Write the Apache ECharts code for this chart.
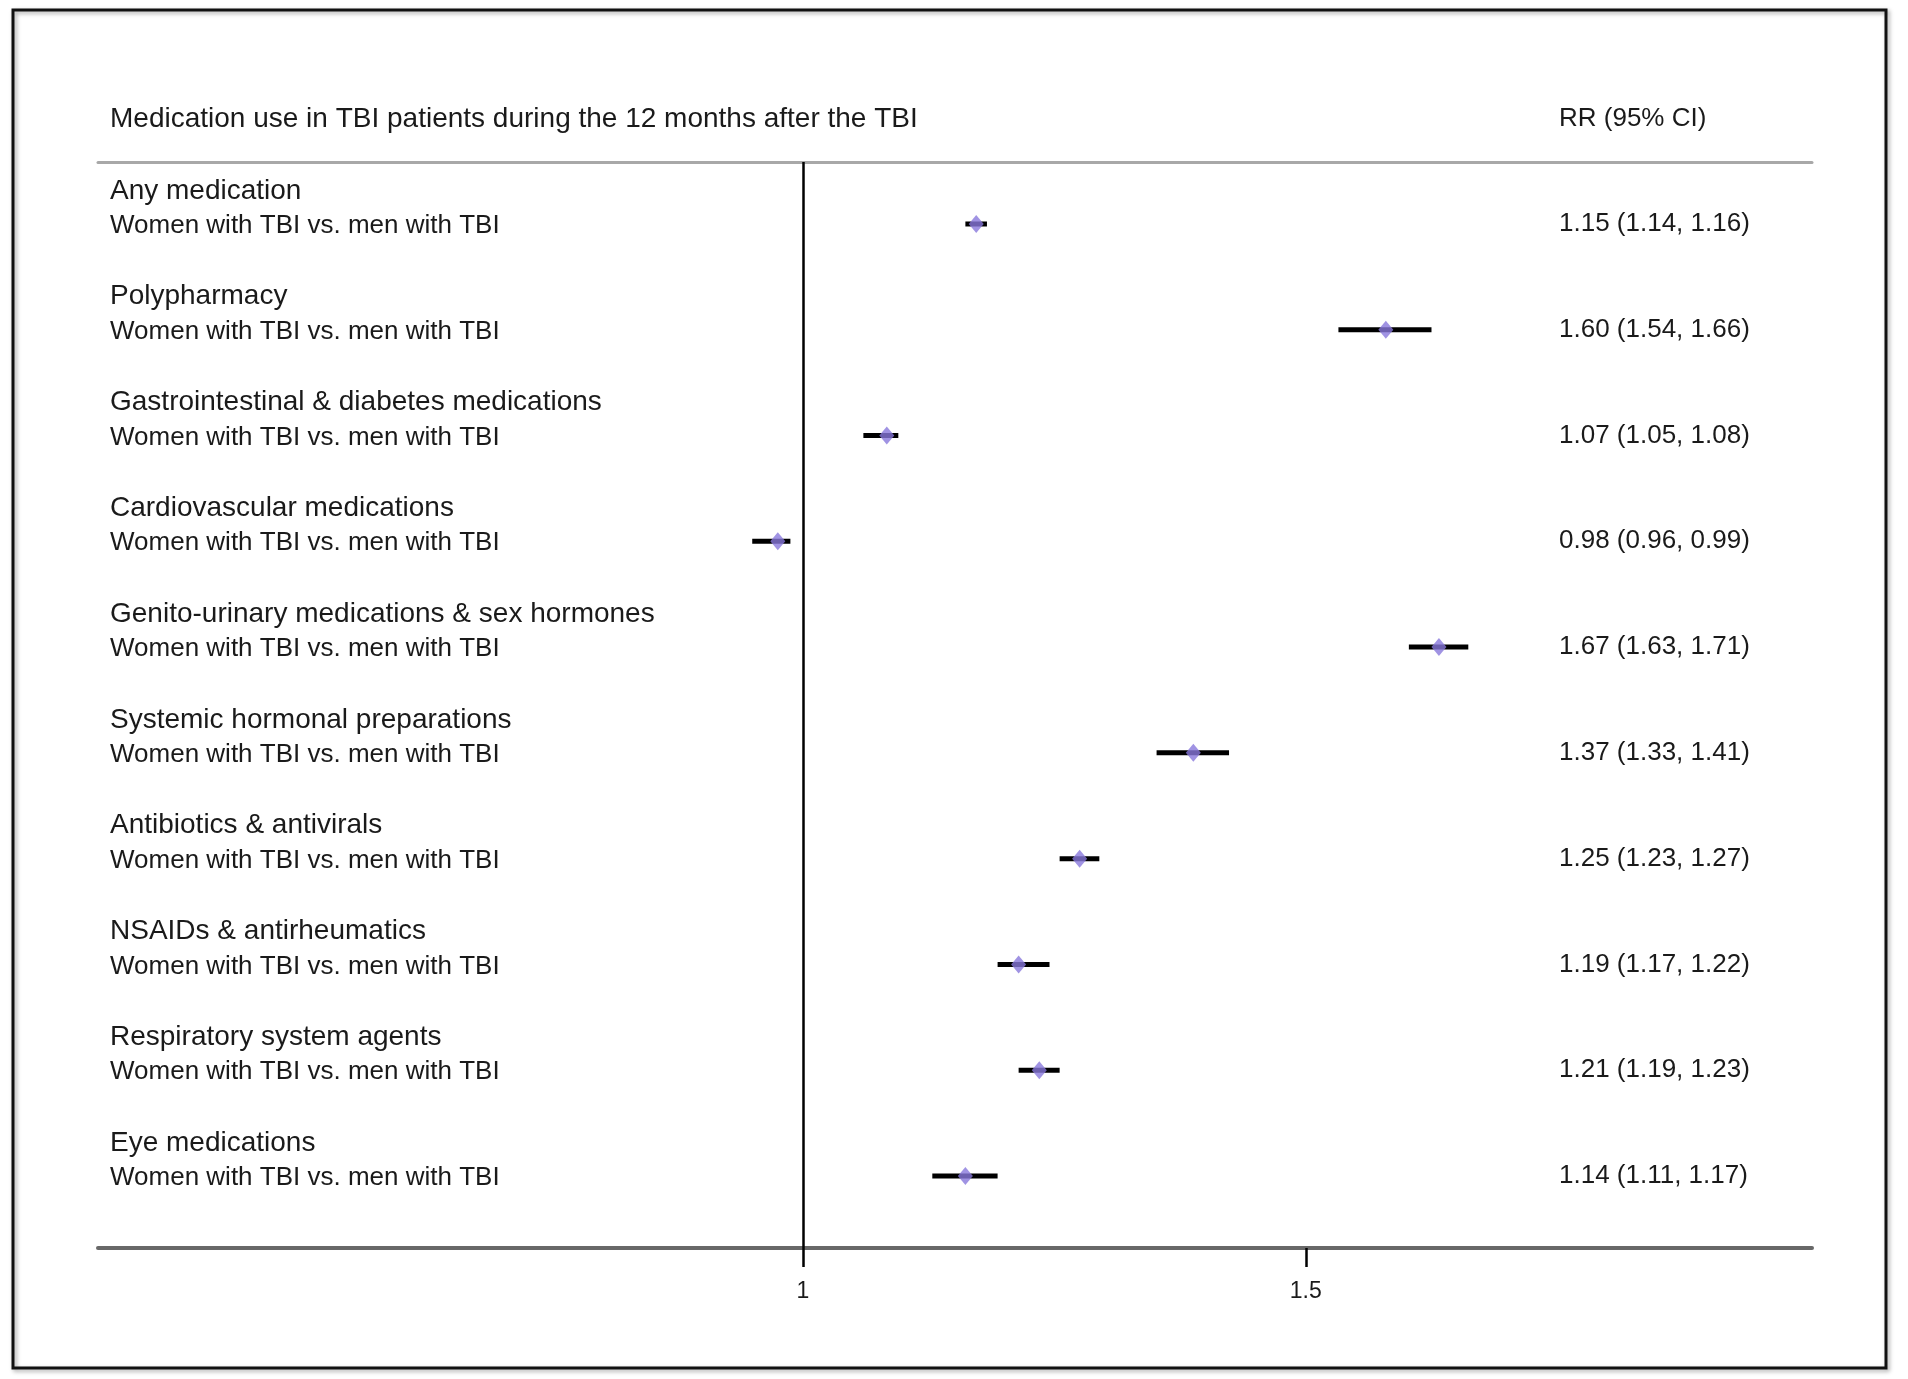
<!DOCTYPE html>
<html>
<head>
<meta charset="utf-8">
<script src="https://cdn.jsdelivr.net/npm/echarts@6/dist/echarts.min.js"></script>
<style>
  html, body { margin: 0; padding: 0; background: #ffffff; }
  #chart { width: 1908px; height: 1379px; }
</style>
</head>
<body>
<div id="chart"></div>
<script>
// ---- data ----
const headerLeft = 'Medication use in TBI patients during the 12 months after the TBI';
const headerRight = 'RR (95% CI)';
const categories = [
  'Any medication',
  'Polypharmacy',
  'Gastrointestinal & diabetes medications',
  'Cardiovascular medications',
  'Genito-urinary medications & sex hormones',
  'Systemic hormonal preparations',
  'Antibiotics & antivirals',
  'NSAIDs & antirheumatics',
  'Respiratory system agents',
  'Eye medications'
];
const comparisons = [
  'Women with TBI vs. men with TBI',
  'Women with TBI vs. men with TBI',
  'Women with TBI vs. men with TBI',
  'Women with TBI vs. men with TBI',
  'Women with TBI vs. men with TBI',
  'Women with TBI vs. men with TBI',
  'Women with TBI vs. men with TBI',
  'Women with TBI vs. men with TBI',
  'Women with TBI vs. men with TBI',
  'Women with TBI vs. men with TBI'
];
const rr    = [1.15, 1.60, 1.07, 0.98, 1.67, 1.37, 1.25, 1.19, 1.21, 1.14];
const ciLow = [1.14, 1.54, 1.05, 0.96, 1.63, 1.33, 1.23, 1.17, 1.19, 1.11];
const ciHigh= [1.16, 1.66, 1.08, 0.99, 1.71, 1.41, 1.27, 1.22, 1.23, 1.17];
const xTicks = [1, 1.5];
const refValue = 1;

// ---- derived ----
const rowIdx = categories.map((_, i) => i);
const rrLabels = rr.map((v, i) => v.toFixed(2) + ' (' + ciLow[i].toFixed(2) + ', ' + ciHigh[i].toFixed(2) + ')');
const ciData = rowIdx.map(i => [ciLow[i], ciHigh[i], i]);
const ptData = rowIdx.map(i => [rr[i], i]);

const FONT = 'Arial, "Liberation Sans", sans-serif';
const TXT = '#1a1a1a';
const X_MIN = 0.5665, X_MAX = 2.256;
const Y_MIN = -0.586, Y_MAX = 9.681;

const chart = echarts.init(document.getElementById('chart'), null, { renderer: 'canvas' });
chart.setOption({
  backgroundColor: '#ffffff',
  animation: false,
  textStyle: { fontFamily: FONT },
  title: [
    { text: headerLeft, left: 110, top: 105, padding: 0,
      textStyle: { fontSize: 28, fontWeight: 'normal', color: TXT, fontFamily: FONT, lineHeight: 28 } },
    { text: headerRight, left: 1559, top: 106, padding: 0,
      textStyle: { fontSize: 26, fontWeight: 'normal', color: TXT, fontFamily: FONT, lineHeight: 26 } }
  ],
  grid: { left: 98, right: 96, top: 162, bottom: 131, containLabel: false },
  xAxis: [
    {
      type: 'log', position: 'bottom', min: X_MIN, max: X_MAX,
      axisLine: { show: true, onZero: false, lineStyle: { color: '#686868', width: 4 } },
      axisTick: { show: true, customValues: xTicks, length: 19, lineStyle: { color: '#000', width: 2.5 } },
      axisLabel: { show: true, customValues: xTicks, margin: 32, fontSize: 23, color: TXT, fontFamily: FONT,
        formatter: v => String(v) },
      splitLine: { show: false }, minorTick: { show: false }, minorSplitLine: { show: false }
    },
    {
      type: 'log', position: 'top', min: X_MIN, max: X_MAX,
      axisLine: { show: true, onZero: false, lineStyle: { color: '#a8a8a8', width: 3 } },
      axisTick: { show: false }, axisLabel: { show: false }, splitLine: { show: false }
    }
  ],
  yAxis: [
    {
      type: 'value', position: 'left', inverse: true, min: Y_MIN, max: Y_MAX,
      axisLine: { show: false }, axisTick: { show: false }, splitLine: { show: false },
      axisLabel: {
        show: true, inside: true, margin: 12, align: 'left', verticalAlign: 'middle',
        padding: [4, 0, 0, 0],
        customValues: rowIdx,
        formatter: v => '{c|' + categories[v] + '}\n{s|' + comparisons[v] + '}\n{e| }',
        rich: {
          c: { fontSize: 28, lineHeight: 35, color: TXT, fontFamily: FONT },
          s: { fontSize: 26, lineHeight: 35, color: TXT, fontFamily: FONT },
          e: { fontSize: 26, lineHeight: 35, color: TXT, fontFamily: FONT }
        }
      }
    },
    {
      type: 'value', position: 'right', inverse: true, min: Y_MIN, max: Y_MAX,
      axisLine: { show: false }, axisTick: { show: false }, splitLine: { show: false },
      axisLabel: {
        show: true, inside: true, margin: 253, align: 'left', verticalAlign: 'middle',
        padding: [4, 0, 0, 0],
        customValues: rowIdx,
        formatter: v => rrLabels[v],
        fontSize: 26, color: TXT, fontFamily: FONT
      }
    }
  ],
  series: [
    {
      type: 'custom', xAxisIndex: 0, yAxisIndex: 0, silent: true,
      encode: { x: [0, 1], y: 2 },
      data: ciData,
      renderItem: (params, api) => {
        const a = api.coord([api.value(0), api.value(2)]);
        const b = api.coord([api.value(1), api.value(2)]);
        return { type: 'line', shape: { x1: a[0], y1: a[1], x2: b[0], y2: b[1] },
          style: { stroke: '#000000', lineWidth: 5 } };
      },
      z: 3
    },
    {
      type: 'scatter', xAxisIndex: 0, yAxisIndex: 0, silent: true,
      symbol: 'diamond', symbolSize: [15, 18],
      itemStyle: { color: '#8878dc' },
      data: ptData, z: 4,
      markLine: {
        silent: true, symbol: ['none', 'none'], label: { show: false },
        lineStyle: { color: '#000000', width: 2.5, type: 'solid' },
        data: [{ xAxis: refValue }], z: 2
      }
    }
  ],
  graphic: [
    { type: 'rect', z: 100, silent: true,
      shape: { x: 13, y: 10, width: 1873, height: 1358 },
      style: { fill: 'none', stroke: '#111111', lineWidth: 3,
        shadowBlur: 4, shadowColor: 'rgba(0,0,0,0.35)', shadowOffsetX: 2, shadowOffsetY: 2 } }
  ]
});
</script>
</body>
</html>
